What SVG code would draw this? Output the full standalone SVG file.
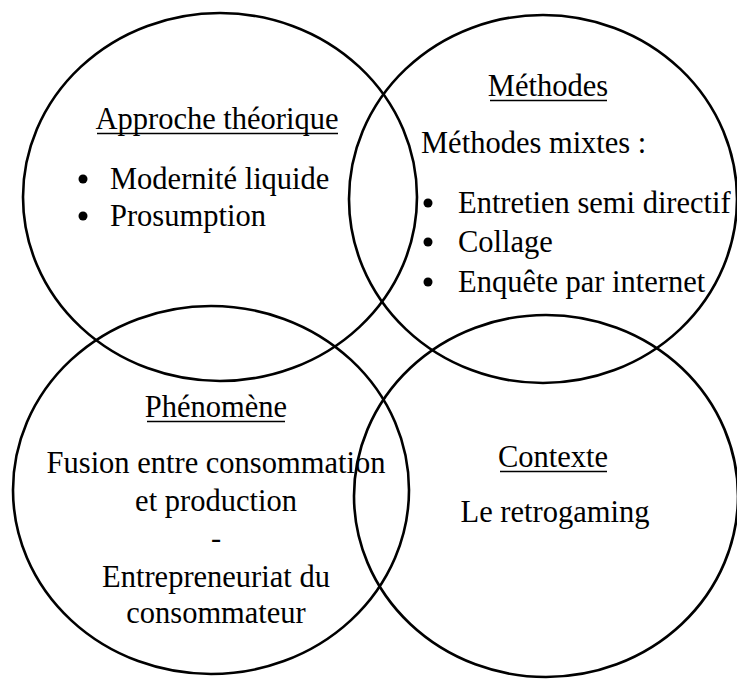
<svg xmlns="http://www.w3.org/2000/svg" width="737" height="679" viewBox="0 0 737 679">
<style>
.c{fill:none;stroke:#000;stroke-width:2.6}
.t{font-family:"Liberation Serif","Times New Roman",serif;font-size:30.5px;fill:#000}
.m{text-anchor:middle}
.u{stroke:#000;stroke-width:1.5}
.b{fill:#000}
</style>
<rect width="737" height="679" fill="#fff"/>
<g id="approche">
<ellipse class="c" cx="220" cy="197" rx="197" ry="184"/>
<text class="t m" x="217" y="129">Approche théorique</text>
<line class="u" x1="97" y1="133.5" x2="338" y2="133.5"/>
<circle class="b" cx="83" cy="179" r="4.5"/>
<text class="t" x="110" y="189">Modernité liquide</text>
<circle class="b" cx="83" cy="216" r="4.5"/>
<text class="t" x="110" y="226">Prosumption</text>
</g>
<g id="methodes">
<ellipse class="c" cx="543" cy="199" rx="194" ry="184"/>
<text class="t m" x="548" y="96">Méthodes</text>
<line class="u" x1="490" y1="100.5" x2="607" y2="100.5"/>
<text class="t" x="421" y="153">Méthodes mixtes :</text>
<circle class="b" cx="428" cy="203" r="4.5"/>
<text class="t" x="458" y="213">Entretien semi directif</text>
<circle class="b" cx="428" cy="242" r="4.5"/>
<text class="t" x="458" y="252">Collage</text>
<circle class="b" cx="428" cy="282" r="4.5"/>
<text class="t" x="458" y="292">Enquête par internet</text>
</g>
<g id="phenomene">
<ellipse class="c" cx="211" cy="490" rx="198" ry="184"/>
<text class="t m" x="216" y="417">Phénomène</text>
<line class="u" x1="147" y1="421.5" x2="285" y2="421.5"/>
<text class="t m" x="216" y="473">Fusion entre consommation</text>
<text class="t m" x="216" y="511">et production</text>
<text class="t m" x="216" y="548">-</text>
<text class="t m" x="216" y="587">Entrepreneuriat du</text>
<text class="t m" x="216" y="623">consommateur</text>
</g>
<g id="contexte">
<ellipse class="c" cx="546" cy="496" rx="192" ry="181"/>
<text class="t m" x="553" y="467">Contexte</text>
<line class="u" x1="500" y1="471.5" x2="607" y2="471.5"/>
<text class="t m" x="555" y="522">Le retrogaming</text>
</g>
<g id="connectors"></g>
</svg>
